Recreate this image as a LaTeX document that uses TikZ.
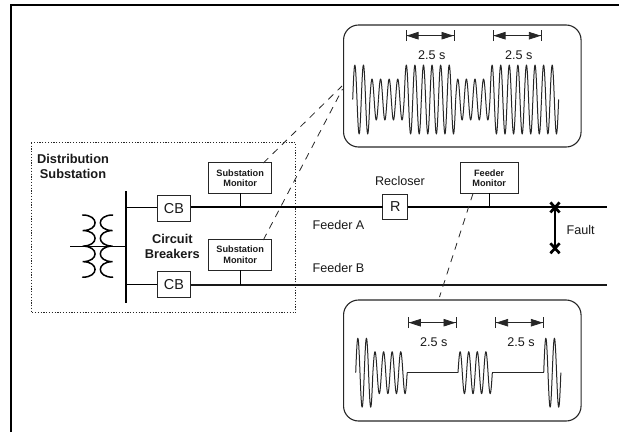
\documentclass[tikz,border=0pt]{standalone}
\usepackage{fontspec}
\setmainfont{Liberation Sans}
\usetikzlibrary{arrows.meta,calc}
\tikzset{
  lbl/.style={inner sep=0pt,outer sep=0pt,font=\fontsize{12.6}{14}\selectfont,text=black!90},
  blbl/.style={inner sep=0pt,outer sep=0pt,align=center,font=\fontsize{12.8}{15.2}\selectfont\bfseries,text=black!90},
  monbox/.style={draw=black!85,line width=1pt,inner sep=0pt,outer sep=0pt,align=center,minimum width=62.5pt,minimum height=30.5pt,font=\fontsize{9.2}{10.7}\selectfont\bfseries,text=black!90},
  swbox/.style={draw=black!85,line width=1pt,inner sep=0pt,outer sep=0pt,font=\fontsize{14.4}{16}\selectfont,text=black!90},
  scopebox/.style={draw=black!85,line width=1.1pt,rounded corners=15pt,inner sep=0pt,outer sep=0pt,minimum width=237.5pt},
  wave/.style={black!85,line width=1pt,line join=round},
  dim/.style={black!85,line width=0.8pt,{Bar[width=11pt,line width=0.8pt]Triangle[length=12pt,width=7.5pt]}-{Triangle[length=12pt,width=7.5pt]Bar[width=11pt,line width=0.8pt]}},
  dashln/.style={black!85,line width=0.8pt,dash pattern=on 7pt off 6pt},
  feeder/.style={black,line width=2pt},
  feederb/.style={black!90,line width=1.5pt},
  thinwire/.style={black,line width=1.3pt},
  coil/.style={black,line width=1.5pt,line cap=round},
  xmark/.style={black,line width=2.7pt}
}
% #1 start x, #2 centre y, #3 list of amplitudes, one per cycle
\newcommand{\wavecycles}[3]{%
  \foreach \amp [count=\kk from 0] in {#3}{%
    \draw[wave] plot[domain=0:360,samples=25,smooth] ({#1+(\kk+\x/360)*8.58},{#2-\amp*sin(\x)});
  }%
}
\newcommand{\lobes}[3]{% x, top y, bulge
  \draw[coil] (#1,#2) .. controls (#1+#3,#2) and (#1+#3,#2+15.55) .. (#1,#2+15.55)
     .. controls (#1+#3,#2+15.55) and (#1+#3,#2+31.1) .. (#1,#2+31.1)
     .. controls (#1+#3,#2+31.1) and (#1+#3,#2+46.65) .. (#1,#2+46.65)
     .. controls (#1+#3,#2+46.65) and (#1+#3,#2+62.2) .. (#1,#2+62.2);
}
\begin{document}
\begin{tikzpicture}[x=1pt,y=-1pt]
\useasboundingbox (0,0) rectangle (619,432);
% frame
\coordinate (frameBL) at (11,432);
\coordinate (frameTL) at (11,5);
\coordinate (frameTR) at (619,5);
\draw[black,line width=1.6pt,line join=miter] (frameBL) -- (frameTL) -- (frameTR);
% dotted substation outline
\draw[black!85,line width=0.8pt,dash pattern=on 1.2pt off 1.6pt] (31.3,142.7) rectangle (295.7,312.7);
% scope boxes
\node[scopebox,minimum height=122pt] (topscope) at (462.3,86) {};
\node[scopebox,minimum height=121pt] (botscope) at (462.3,360.5) {};
% equipment
\node[swbox,minimum width=33.4pt,minimum height=25.3pt] (cb1) at (174,208.4) {CB};
\node[swbox,minimum width=33.4pt,minimum height=25.3pt] (cb2) at (174,284.4) {CB};
\node[swbox,minimum width=25pt,minimum height=25pt] (rec) at (395.2,206.8) {R};
\node[monbox] (mon1) at (240.2,178.2) {Substation\\Monitor};
\node[monbox] (mon2) at (240.2,255) {Substation\\Monitor};
\node[monbox,minimum width=58.3pt] (mon3) at (489.2,178.2) {Feeder\\Monitor};
% bus and feeders
\coordinate (busT) at (126,191);
\coordinate (busB) at (126,302.7);
\coordinate (busA) at (126,207.4);
\coordinate (busC) at (126,284.4);
\coordinate (busX) at (126,246.7);
\coordinate (inX) at (70,246.7);
\coordinate (endA) at (606.7,207.4);
\coordinate (endB) at (606.7,285);
\draw[black,line width=1.6pt] (busT) -- (busB);
\draw[thinwire] (inX) -- (busX);
\draw[thinwire] (busA) -- (cb1.west |- busA);
\draw[thinwire] (busC) -- (cb2.west);
\draw[feeder] (cb1.east |- endA) -- (rec.west |- endA);
\draw[feeder] (rec.east |- endA) -- (endA);
\draw[feederb] (cb2.east |- endB) -- (endB);
% stems
\draw[black,line width=1.2pt] (mon1.south) -- (mon1.south |- endA);
\draw[black,line width=1.2pt] (mon2.south) -- (mon2.south |- endB);
\draw[black,line width=1.4pt] (mon3.south) -- (mon3.south |- endA);
% transformer
\lobes{82.7}{215}{16.5}
\lobes{112.7}{215}{-16.5}
% fault
\coordinate (f1) at (555,207.4);
\coordinate (f2) at (555,248.3);
\draw[black,line width=1.3pt] (f1) -- (f2);
\draw[xmark] ($(f1)+(-4.6,-5)$) -- ($(f1)+(4.6,5)$) ($(f1)+(4.6,-5)$) -- ($(f1)+(-4.6,5)$);
\draw[xmark] ($(f2)+(-4.6,-5)$) -- ($(f2)+(4.6,5)$) ($(f2)+(4.6,-5)$) -- ($(f2)+(-4.6,5)$);
% dashed leaders
\coordinate (d1) at (263.3,163);
\coordinate (d2) at (263.3,240);
\coordinate (d3) at (473,193.5);
\coordinate (d1e) at (342,86);
\coordinate (d2e) at (342.5,89);
\coordinate (d3e) at (439.5,297);
\draw[dashln] (d1) -- (d1e);
\draw[dashln] (d2) -- (d2e);
\draw[dashln] (d3) -- (d3e);
% labels
\node[blbl] (ds) at (73,166.2) {Distribution\\Substation};
\node[blbl] (cbs) at (172.3,246.7) {Circuit\\Breakers};
\node[lbl] (recl) at (400,180.7) {Recloser};
\node[lbl] (fa) at (338.5,225) {Feeder A};
\node[lbl] (fb) at (338.5,268.3) {Feeder B};
\node[lbl] (fault) at (580.7,230) {Fault};
% timing marks top
\coordinate (t1a) at (405.7,35.7); \coordinate (t1b) at (454.3,35.7);
\coordinate (t2a) at (492.7,35.7); \coordinate (t2b) at (541.7,35.7);
\draw[dim] (t1a) -- (t1b);
\draw[dim] (t2a) -- (t2b);
\node[lbl] (tl1) at (431.7,55) {2.5 s};
\node[lbl] (tl2) at (518.7,55) {2.5 s};
% timing marks bottom
\coordinate (b1a) at (408,322.7); \coordinate (b1b) at (456.3,322.7);
\coordinate (b2a) at (495.3,322.7); \coordinate (b2b) at (543.7,322.7);
\draw[dim] (b1a) -- (b1b);
\draw[dim] (b2a) -- (b2b);
\node[lbl] (bl1) at (433.7,341.7) {2.5 s};
\node[lbl] (bl2) at (521,341.7) {2.5 s};
% waves
\wavecycles{352.7}{99.5}{34.5,34.5,20.5,20.5,20.5,20.5,34.5,34.5,34.5,34.5,34.5,34.5,20.5,20.5,20.5,20.5,34.5,34.5,34.5,34.5,34.5,34.5,34.5,34.5}
\wavecycles{355.7}{372.7}{34.5,34.5,21,21,21,21}
\wavecycles{458}{372.7}{21,21,21,21}
\wavecycles{543.7}{372.7}{34.5,34.5}
\draw[wave] (407.2,372.7) -- (458,372.7);
\draw[wave] (492.3,372.7) -- (543.7,372.7);
\end{tikzpicture}
\end{document}
